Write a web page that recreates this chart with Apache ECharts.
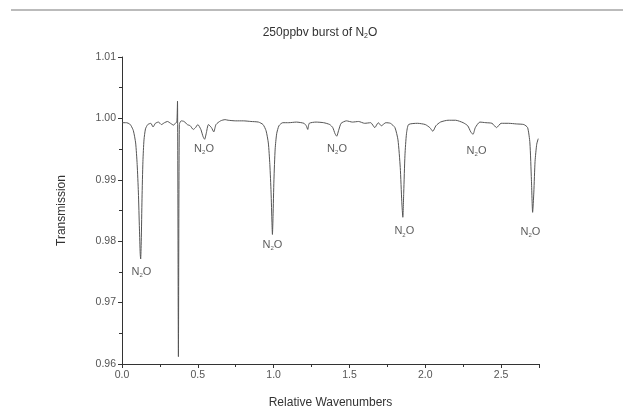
<!DOCTYPE html>
<html>
<head>
<meta charset="utf-8">
<script src="https://cdn.jsdelivr.net/npm/echarts@6/dist/echarts.min.js"></script>
<style>
  html, body { margin: 0; padding: 0; background: #fff; }
  #main { width: 623px; height: 414px; }
</style>
</head>
<body>
<div id="main"></div>
<script>
// spectrum: [relative wavenumber, transmission]
var spectrum = [
    [0.000, 0.9993], [0.030, 0.9993], [0.050, 0.9991], [0.060, 0.9988], [0.075, 0.9980],
    [0.090, 0.9960], [0.100, 0.9925], [0.108, 0.9880], [0.115, 0.9820], [0.120, 0.9780],
    [0.123, 0.9771], [0.127, 0.9800], [0.132, 0.9870], [0.138, 0.9930], [0.145, 0.9965],
    [0.155, 0.9983], [0.170, 0.9990], [0.190, 0.9992], [0.205, 0.9986], [0.220, 0.9992],
    [0.240, 0.9994], [0.260, 0.9990], [0.280, 0.9993], [0.300, 0.9995], [0.320, 0.9992],
    [0.340, 0.9989], [0.355, 0.9993], [0.362, 0.9994], [0.366, 1.0028], [0.372, 0.9612],
    [0.378, 0.9990], [0.390, 0.9996], [0.410, 0.9995], [0.430, 0.9990], [0.450, 0.9988],
    [0.470, 0.9982], [0.485, 0.9985], [0.500, 0.9990], [0.520, 0.9982], [0.535, 0.9970],
    [0.545, 0.9966], [0.555, 0.9975], [0.570, 0.9990], [0.590, 0.9985], [0.605, 0.9978],
    [0.620, 0.9990], [0.650, 0.9996], [0.680, 0.9998], [0.700, 0.9997], [0.750, 0.9996],
    [0.800, 0.9996], [0.850, 0.9995], [0.900, 0.9994], [0.930, 0.9990], [0.950, 0.9980],
    [0.965, 0.9960], [0.975, 0.9925], [0.983, 0.9880], [0.989, 0.9830], [0.992, 0.9811],
    [0.996, 0.9840], [1.002, 0.9900], [1.010, 0.9950], [1.020, 0.9975], [1.035, 0.9988],
    [1.060, 0.9993], [1.100, 0.9993], [1.150, 0.9994], [1.200, 0.9992], [1.215, 0.9988],
    [1.225, 0.9982], [1.235, 0.9992], [1.280, 0.9994], [1.330, 0.9993], [1.370, 0.9990],
    [1.390, 0.9985], [1.405, 0.9975], [1.416, 0.9971], [1.428, 0.9980], [1.445, 0.9992],
    [1.480, 0.9996], [1.520, 0.9994], [1.560, 0.9995], [1.600, 0.9992], [1.640, 0.9993],
    [1.667, 0.9985], [1.690, 0.9993], [1.710, 0.9988], [1.740, 0.9993], [1.770, 0.9992],
    [1.800, 0.9985], [1.820, 0.9965], [1.835, 0.9920], [1.845, 0.9865], [1.852, 0.9839],
    [1.858, 0.9880], [1.866, 0.9940], [1.876, 0.9975], [1.890, 0.9990], [1.950, 0.9992],
    [2.000, 0.9990], [2.030, 0.9985], [2.050, 0.9979], [2.070, 0.9988], [2.100, 0.9994],
    [2.150, 0.9997], [2.200, 0.9997], [2.250, 0.9993], [2.280, 0.9988], [2.300, 0.9978],
    [2.315, 0.9974], [2.330, 0.9985], [2.360, 0.9994], [2.400, 0.9993], [2.440, 0.9992],
    [2.470, 0.9985], [2.500, 0.9992], [2.550, 0.9992], [2.600, 0.9991], [2.650, 0.9990],
    [2.675, 0.9985], [2.690, 0.9960], [2.700, 0.9900], [2.708, 0.9847], [2.716, 0.9880],
    [2.724, 0.9930], [2.735, 0.9958], [2.745, 0.9967]
];

// where the "N2O" annotations sit (data coords)
var labelSpots = [
    [0.128, 0.9750], [0.541, 0.9951], [0.992, 0.9794], [1.418, 0.9951],
    [1.862, 0.9816], [2.338, 0.9947], [2.694, 0.9815]
];

var xTicks = { min: 0, max: 2.75, step: 0.5 };
var yTicks = { min: 0.96, max: 1.01, step: 0.01 };

var font = 'Liberation Sans, Arial, sans-serif';
var ink = '#333';

var chart = echarts.init(document.getElementById('main'));

var option = {
    animation: false,
    backgroundColor: '#fff',
    title: {
        text: '{t|250ppbv burst of N}{s|2}{t|O}',
        left: 315,
        top: 21,
        textAlign: 'center',
        textStyle: {
            fontWeight: 'normal',
            rich: {
                t: { fontFamily: font, fontSize: 12, color: ink, fontWeight: 'normal' },
                s: { fontFamily: font, fontSize: 7, color: ink, fontWeight: 'normal', padding: [7, 0, 0, 0] }
            }
        }
    },
    graphic: [{
        type: 'line',
        shape: { x1: 11, y1: 10, x2: 623, y2: 10 },
        style: { stroke: '#bbb', lineWidth: 2 }
    }],
    grid: { left: 122, right: 84, top: 57, bottom: 49 },
    xAxis: {
        type: 'value',
        min: xTicks.min,
        max: xTicks.max,
        interval: xTicks.step,
        name: 'Relative Wavenumbers',
        nameLocation: 'middle',
        nameGap: 33,
        nameTextStyle: { fontFamily: font, fontSize: 12, color: ink },
        axisLine: { lineStyle: { color: ink, width: 1 } },
        axisTick: { length: 4, lineStyle: { color: ink } },
        minorTick: { show: true, splitNumber: 2, length: 3, lineStyle: { color: ink } },
        splitLine: { show: false },
        axisLabel: {
            showMaxLabel: false,
            fontFamily: font, fontSize: 10.5, color: '#555', margin: 6,
            formatter: function (v) { return v.toFixed(1); }
        }
    },
    yAxis: {
        type: 'value',
        min: yTicks.min,
        max: yTicks.max,
        interval: yTicks.step,
        name: 'Transmission',
        nameLocation: 'middle',
        nameGap: 54,
        nameTextStyle: { fontFamily: font, fontSize: 12, color: ink },
        axisLine: { show: true, lineStyle: { color: ink, width: 1 } },
        axisTick: { show: true, length: 4, lineStyle: { color: ink } },
        minorTick: { show: true, splitNumber: 2, length: 3, lineStyle: { color: ink } },
        splitLine: { show: false },
        axisLabel: {
            fontFamily: font, fontSize: 10.5, color: '#555', margin: 6,
            formatter: function (v) { return v.toFixed(2); }
        }
    },
    series: [
        {
            type: 'line',
            data: spectrum,
            showSymbol: false,
            smooth: 0.2,
            lineStyle: { color: '#555', width: 1 },
            z: 2
        },
        {
            type: 'scatter',
            data: labelSpots,
            symbolSize: 0,
            itemStyle: { color: 'rgba(0,0,0,0)' },
            silent: true,
            label: {
                show: true,
                position: 'inside',
                formatter: '{n|N}{s|2}{n|O}',
                rich: {
                    n: { fontFamily: font, fontSize: 11, color: ink },
                    s: { fontFamily: font, fontSize: 6, color: ink, padding: [7, 0, 0, 0] }
                }
            },
            z: 3
        }
    ]
};

chart.setOption(option);
</script>
</body>
</html>
